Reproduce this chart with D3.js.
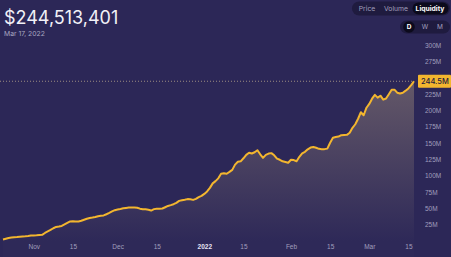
<!DOCTYPE html>
<html><head><meta charset="utf-8">
<script src="https://cdn.jsdelivr.net/npm/d3@7"></script>
<style>
html,body{margin:0;padding:0;background:#2c2757;overflow:hidden;}
svg{display:block;font-family:Inter,"Noto Sans",sans-serif;}
</style></head>
<body><svg id="c" width="451" height="257"></svg>
<script>
// Liquidity (USD millions), daily from 2021-10-21 to 2022-03-17
const startDate = "2021-10-21";
const liquidityM = [
 2.3,3.4,4.6,5.2,5.7,6.1,6.6,6.9,7.2,7.7,
 8.3,8.4,8.7,9.1,9.5,12.3,14.6,16.9,19.5,21.5,
 22.2,23.0,25.3,27.6,29.9,30.4,29.8,29.9,31.0,32.5,
 34.1,35.3,36.0,36.8,37.9,38.7,39.1,41.0,43.0,45.3,
 47.2,48.3,49.1,50.0,50.6,51.1,51.4,51.2,50.9,49.5,
 48.6,48.6,47.9,46.6,48.8,49.4,49.4,49.7,51.7,53.7,
 54.9,56.3,58.3,61.4,62.4,63.2,64.1,64.0,62.9,64.4,
 67.2,69.0,72.1,75.9,81.3,88.2,91.6,95.9,102.8,103.7,
 102.9,105.8,108.9,116.9,121.2,121.9,126.6,131.9,135.0,133.9,
 135.8,139.0,132.7,127.3,131.9,133.8,134.5,131.2,126.1,124.3,
 122.0,120.9,119.7,124.3,123.8,122.0,128.9,134.2,136.5,140.4,
 143.0,143.9,142.7,141.1,140.6,140.6,141.4,150.3,158.0,159.1,
 159.8,162.0,162.3,162.5,165.7,173.3,178.7,187.1,197.1,192.5,
 204.0,209.8,217.8,223.7,219.4,222.4,216.3,218.1,224.7,231.6,
 231.6,227.0,225.8,227.0,230.1,233.5,238.5,244.513401
];
// 250M tick is hidden behind the current-value label in the reference
const yTicksM = [25,50,75,100,125,150,175,200,225,275,300];
const xTickDates = ["2021-11-01","2021-11-15","2021-12-01","2021-12-15","2022-01-01","2022-01-15","2022-02-01","2022-02-15","2022-03-01","2022-03-15"];
const tabs = ["Price","Volume","Liquidity"];
const periods = ["D","W","M"];
const headline = "$244,513,401";
const dateLabel = "Mar 17, 2022";
const lastLabel = "244.5M";

const parse = d3.utcParse("%Y-%m-%d");
const t0 = parse(startDate);
const data = liquidityM.map((v,i)=>({date:d3.utcDay.offset(t0,i), value:v*1e6}));

const svg = d3.select("#c");
const lineColor = "#f3b62f";

const x = d3.scaleUtc().domain([data[0].date, data[data.length-1].date]).range([3,414]);
const y = d3.scaleLinear().domain([0,300e6]).range([241,45]);

const defs = svg.append("defs");
const grad = defs.append("linearGradient").attr("id","ag")
  .attr("gradientUnits","userSpaceOnUse").attr("x1",0).attr("x2",0)
  .attr("y1",y(d3.max(data,d=>d.value))).attr("y2",y(0));
grad.append("stop").attr("offset","0").attr("stop-color","#645868");
grad.append("stop").attr("offset","1").attr("stop-color","#2e2958");

svg.append("path").datum(data)
  .attr("fill","url(#ag)")
  .attr("d",d3.area().x(d=>x(d.date)).y0(y(0)+16).y1(d=>y(d.value)));

// dotted current value line
const last = data[data.length-1];
svg.append("line").attr("x1",0).attr("x2",x(last.date)).attr("y1",y(last.value)).attr("y2",y(last.value))
  .attr("stroke","#b9a88e").attr("stroke-width",1).attr("stroke-dasharray","1,2").attr("opacity",0.8);

svg.append("path").datum(data)
  .attr("fill","none").attr("stroke",lineColor).attr("stroke-width",2).attr("stroke-linejoin","round")
  .attr("d",d3.line().x(d=>x(d.date)).y(d=>y(d.value)));

// y axis
const yAxis = svg.append("g").attr("transform","translate(425,0)")
  .call(d3.axisRight(y).tickValues(yTicksM.map(v=>v*1e6)).tickSize(0).tickPadding(0).tickFormat(d=>(d/1e6)+"M"));
yAxis.select(".domain").remove();
yAxis.selectAll("text").attr("fill","#a19fbd").attr("font-size","6.5px");

// x axis
const xAxis = svg.append("g").attr("transform","translate(0,244)")
  .call(d3.axisBottom(x).tickValues(xTickDates.map(parse)).tickSize(0).tickPadding(0)
    .tickFormat(d=>{
      if(d.getUTCMonth()===0 && d.getUTCDate()===1) return d3.utcFormat("%Y")(d);
      if(d.getUTCDate()===1) return d3.utcFormat("%b")(d);
      return d3.utcFormat("%-d")(d);
    }));
xAxis.select(".domain").remove();
xAxis.selectAll("text").attr("fill","#a19fbd").attr("font-size","6.5px").attr("dy","0.71em")
  .filter(d=>d.getUTCMonth()===0 && d.getUTCDate()===1).attr("fill","#e6e4f2").attr("font-weight","bold");

// price label
svg.append("rect").attr("x",418).attr("y",y(last.value)-6.5).attr("width",33).attr("height",13)
  .attr("fill",lineColor).attr("rx",1);
svg.append("text").attr("x",421).attr("y",y(last.value)).attr("dy","0.35em")
  .attr("font-size","7.5px").attr("fill","#1f1b3d").attr("font-weight",500).text(lastLabel);

// header
svg.append("text").attr("x",4).attr("y",24).attr("fill","#f2f1f7").attr("font-size","18px").text(headline);
svg.append("text").attr("x",4).attr("y",36).attr("fill","#a8a6c0").attr("font-size","6.8px").text(dateLabel);

// tabs
svg.append("rect").attr("x",352).attr("y",1.5).attr("width",98).attr("height",14).attr("rx",7).attr("fill","#1f1b3f");
const tabX = [367,396,430];
svg.append("rect").attr("x",412.5).attr("y",2.5).attr("width",36).attr("height",12).attr("rx",6).attr("fill","#0c0a1c");
tabs.forEach((t,i)=>{
  svg.append("text").attr("x",tabX[i]).attr("y",8.7).attr("dy","0.35em").attr("text-anchor","middle")
    .attr("font-size","6.8px").attr("fill",i===2?"#ffffff":"#a19fbd").attr("font-weight",i===2?"bold":"normal").text(t);
});
svg.append("rect").attr("x",400).attr("y",20.5).attr("width",50).attr("height",13).attr("rx",6.5).attr("fill","#1f1b3f");
svg.append("circle").attr("cx",409).attr("cy",27).attr("r",5.8).attr("fill","#0c0a1c");
const perX = [409,425,440];
periods.forEach((p,i)=>{
  svg.append("text").attr("x",perX[i]).attr("y",27).attr("dy","0.35em").attr("text-anchor","middle")
    .attr("font-size","6.5px").attr("fill",i===0?"#ffffff":"#a19fbd").attr("font-weight",i===0?"bold":"normal").text(p);
});
</script></body></html>
